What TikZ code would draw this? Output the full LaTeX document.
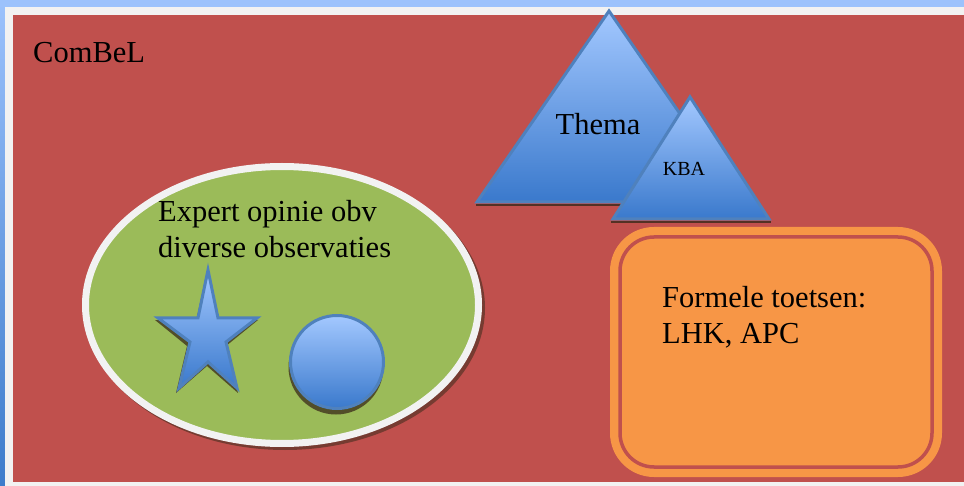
\documentclass[tikz,border=0pt]{standalone}
\usepackage{fontspec}
\setmainfont{Liberation Serif}
\definecolor{bgtop}{HTML}{9CC2FC}
\definecolor{bgbot}{HTML}{3D7CCB}
\definecolor{framegray}{HTML}{F2F2F2}
\definecolor{redbg}{HTML}{C0504D}
\definecolor{greenfill}{HTML}{9BBB59}
\definecolor{orangefill}{HTML}{F79646}
\definecolor{blueline}{HTML}{4F81BD}
\definecolor{bluetop}{HTML}{A3C8FF}
\definecolor{bluebot}{HTML}{3A79CC}
\definecolor{shadowdark}{HTML}{3A2A1A}
\tikzset{
  bluefig/.style={top color=bluetop, bottom color=bluebot, draw=blueline, line width=3pt, line join=miter},
  figshadow/.style={fill=shadowdark, fill opacity=0.75},
  bigtext/.style={font=\fontsize{30.5}{36}\selectfont, anchor=base west, inner sep=0pt},
  smalltext/.style={font=\fontsize{20}{24}\selectfont, anchor=base, inner sep=0pt},
}
\begin{document}
\begin{tikzpicture}[x=1pt,y=-1pt]
\useasboundingbox (0,0) rectangle (964,486);
% background
\shade[top color=bgtop, bottom color=bgbot] (0,0) rectangle (964,486);
\fill[bgtop] (0,0) rectangle (964,7);
\fill[framegray] (5,7) rectangle (964,486);
\fill[redbg] (13,15) rectangle (966,482);
\node[bigtext] (combel) at (33,63) {ComBeL};
% ellipse
\fill[shadowdark, opacity=0.55] (285,308) ellipse [x radius=200, y radius=142];
\filldraw[fill=greenfill, draw=framegray, line width=7pt] (282,305) ellipse [x radius=196.5, y radius=138.5];
\node[bigtext] (exp1) at (158,222) {Expert opinie obv};
\node[bigtext] (exp2) at (158,258) {diverse observaties};
% star
\fill[figshadow] ([shift={(-1,3)}]208,268) -- ([shift={(-1,3)}]218,318) -- ([shift={(-1,3)}]259,317) -- ([shift={(-1,3)}]227,343) -- ([shift={(-1,3)}]239,390) -- ([shift={(-1,3)}]208,363) -- ([shift={(-1,3)}]177,390) -- ([shift={(-1,3)}]188,343) -- ([shift={(-1,3)}]156,317) -- ([shift={(-1,3)}]197,318) -- cycle;
\path[bluefig] (208,270) -- (218,318) -- (257,318) -- (226,342) -- (237,388) -- (208,362) -- (179,388) -- (190,342) -- (158,318) -- (198,318) -- cycle;
% circle
\fill[figshadow] (336,367) circle [radius=47.5];
\path[bluefig] (337,362) circle [radius=46.5];
% triangles
\draw[shadowdark, line width=2.5pt, opacity=0.8] (476,205) -- (742,205);
\path[bluefig] (609,11) -- (477,202) -- (741,202) -- cycle;
\node[bigtext, anchor=base] (thema) at (598,135) {Thema};
\draw[shadowdark, line width=2.5pt, opacity=0.8] (611,222) -- (771,222);
\path[bluefig] (690,97) -- (613,219) -- (769,219) -- cycle;
\node[smalltext] (kba) at (684,176) {KBA};
% orange box
\fill[orangefill, rounded corners=44pt] (610,227) rectangle (942,477);
\draw[redbg, line width=3.5pt, rounded corners=34pt] (620,237) rectangle (932,467);
\node[bigtext] (form1) at (662,308) {Formele toetsen:};
\node[bigtext] (form2) at (662,344) {LHK, APC};
\end{tikzpicture}
\end{document}
